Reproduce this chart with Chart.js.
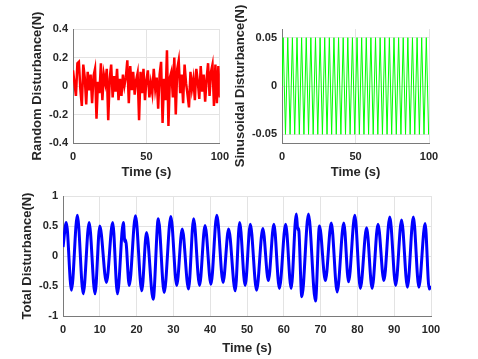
<!DOCTYPE html>
<html>
<head>
<meta charset="utf-8">
<script src="https://cdn.jsdelivr.net/npm/chart.js@4.4.1/dist/chart.umd.min.js"></script>
<style>
  html, body { margin: 0; padding: 0; background: #ffffff; width: 478px; height: 359px; overflow: hidden; }
  canvas { position: absolute; }
</style>
</head>
<body>
<canvas id="c1" width="236" height="180" style="left:0px;top:0px;width:236px;height:180px"></canvas>
<canvas id="c2" width="245" height="180" style="left:233px;top:0px;width:245px;height:180px"></canvas>
<canvas id="c3" width="478" height="179" style="left:0px;top:180px;width:478px;height:179px"></canvas>
<script>
// ---------- data ----------
const randomT = [0,1,2,3,4,5,6,7,8,9,10,11,12,13,14,15,16,17,18,19,20,21,22,23,24,25,26,27,28,29,30,31,32,33,34,35,36,37,38,39,40,41,42,43,44,45,46,47,48,49,50,51,52,53,54,55,56,57,58,59,60,61,62,63,64,65,66,67,68,69,70,71,72,73,74,75,76,77,78,79,80,81,82,83,84,85,86,87,88,89,90,91,92,93,94,95,96,97,98,99,100];
const randomV = [0.11,0.02,-0.07,0.16,0.17,-0.02,-0.14,0.15,0.06,-0.13,0.10,-0.03,0.08,-0.12,0.07,0.12,-0.23,0.03,-0.05,0.16,-0.10,0.08,0.02,0.12,-0.24,0.05,0.15,-0.08,0.07,-0.04,0.12,-0.10,0.05,-0.07,0.08,0.00,0.06,0.18,-0.12,0.14,-0.03,0.10,-0.06,0.04,0.09,-0.24,0.10,-0.05,0.12,-0.10,0.04,0.11,-0.08,0.02,-0.05,0.12,-0.02,0.06,-0.16,0.08,0.17,-0.26,0.05,-0.10,0.25,-0.28,0.06,0.10,-0.08,0.20,-0.20,0.12,0.18,-0.05,0.08,-0.12,0.15,0.02,-0.06,-0.15,0.10,-0.02,0.05,-0.10,0.12,0.03,-0.09,0.14,-0.04,0.08,-0.11,0.05,0.16,-0.07,0.10,0.15,-0.14,0.15,-0.12,0.14,-0.08];

const sinT = [0,0.79,2.36,3.93,5.50,7.07,8.64,10.21,11.78,13.35,14.92,16.49,18.06,19.63,21.21,22.78,24.35,25.92,27.49,29.06,30.63,32.20,33.77,35.34,36.91,38.48,40.06,41.63,43.20,44.77,46.34,47.91,49.48,51.05,52.62,54.19,55.76,57.33,58.90,60.48,62.05,63.62,65.19,66.76,68.33,69.90,71.47,73.04,74.61,76.18,77.75,79.33,80.90,82.47,84.04,85.61,87.18,88.75,90.32,91.89,93.46,95.03,96.60,98.17,99.75,100];
const sinV = [0,0.05,-0.05,0.05,-0.05,0.05,-0.05,0.05,-0.05,0.05,-0.05,0.05,-0.05,0.05,-0.05,0.05,-0.05,0.05,-0.05,0.05,-0.05,0.05,-0.05,0.05,-0.05,0.05,-0.05,0.05,-0.05,0.05,-0.05,0.05,-0.05,0.05,-0.05,0.05,-0.05,0.05,-0.05,0.05,-0.05,0.05,-0.05,0.05,-0.05,0.05,-0.05,0.05,-0.05,0.05,-0.05,0.05,-0.05,0.05,-0.05,0.05,-0.05,0.05,-0.05,0.05,-0.05,0.05,-0.05,0.05,-0.05,-0.044];

const totalT = [0,0.9,2.3,3.9,5.5,7.1,8.7,10.0,11.8,13.5,14.8,16.4,16.8,17.0,18.0,19.7,21.4,22.7,24.5,25.9,27.5,29.3,30.9,32.4,34.1,35.5,37.1,38.6,40.2,41.8,43.5,45.0,46.8,48.0,49.5,50.9,52.6,54.3,55.8,57.3,58.8,60.5,62.0,63.4,63.8,64.0,64.9,66.7,68.6,69.7,71.3,72.9,74.5,76.3,77.6,79.3,80.8,82.5,84.0,85.6,87.2,88.8,90.4,92.0,93.6,95.2,96.7,98.4,99.5,100];
const totalV = [0.15,0.56,-0.57,0.68,-0.63,0.56,-0.63,0.50,-0.44,0.56,-0.63,0.56,0.24,0.27,-0.49,0.67,-0.58,0.39,-0.72,0.62,-0.61,0.66,-0.49,0.45,-0.55,0.62,-0.49,0.51,-0.47,0.68,-0.44,0.45,-0.58,0.56,-0.49,0.53,-0.57,0.46,-0.41,0.53,-0.54,0.53,-0.54,0.70,0.44,0.46,-0.68,0.70,-0.75,0.50,-0.41,0.55,-0.60,0.55,-0.43,0.68,-0.54,0.47,-0.54,0.53,-0.41,0.65,-0.49,0.60,-0.52,0.65,-0.52,0.54,-0.55,-0.50];

const xTicksTop = [0, 50, 100];
const xTicksBottom = [0, 10, 20, 30, 40, 50, 60, 70, 80, 90, 100];
const yTicksRandom = [-0.4, -0.2, 0, 0.2, 0.4];
const yTicksSin = [-0.05, 0, 0.05];
const yTicksTotal = [-1, -0.5, 0, 0.5, 1];

const xTitle = 'Time (s)';
const yTitleRandom = 'Random Disturbance(N)';
const yTitleSin = 'Sinusoidal Disturbance(N)';
const yTitleTotal = 'Total Disturbance(N)';

// ---------- helpers ----------
const FONT = 'Liberation Sans, Arial, sans-serif';
const TXT = '#262626';
const GRID = '#e3e3e3';
const AXIS = '#7a7a7a';

function pts(t, v) { return t.map((x, i) => ({ x: x, y: v[i] })); }

function xAxis(min, max, ticks, h) {
  return {
    type: 'linear', min: min, max: max,
    afterBuildTicks: s => { s.ticks = ticks.map(v => ({ value: v })); },
    afterFit: s => { s.height = h; },
    grid: { color: GRID, lineWidth: 1, drawTicks: false },
    border: { color: AXIS, width: 1 },
    ticks: { color: TXT, padding: 7, maxRotation: 0, autoSkip: false,
             font: { family: FONT, size: 11, weight: 'bold' },
             callback: v => String(v) },
    title: { display: true, text: xTitle, color: TXT, padding: 0,
             font: { family: FONT, size: 13, weight: 'bold' } }
  };
}
function yAxis(min, max, ticks, w, title) {
  return {
    type: 'linear', min: min, max: max,
    afterBuildTicks: s => { s.ticks = ticks.map(v => ({ value: v })); },
    afterFit: s => { s.width = w; },
    grid: { color: GRID, lineWidth: 1, drawTicks: false },
    border: { color: AXIS, width: 1 },
    ticks: { color: TXT, padding: 5, autoSkip: false,
             font: { family: FONT, size: 11, weight: 'bold' },
             callback: v => String(v) },
    title: { display: true, text: title, color: TXT, padding: 0,
             font: { family: FONT, size: 13, weight: 'bold' } }
  };
}
function make(id, data, color, lw, tension, xa, ya, pad) {
  return new Chart(document.getElementById(id), {
    type: 'line',
    data: { datasets: [{ data: data, borderColor: color, borderWidth: lw,
      pointRadius: 0, fill: false, tension: tension,
      cubicInterpolationMode: tension ? 'monotone' : 'default' }] },
    options: {
      responsive: false, animation: false, devicePixelRatio: 1,
      layout: { padding: pad },
      plugins: { legend: { display: false }, tooltip: { enabled: false } },
      scales: { x: xa, y: ya }
    }
  });
}

make('c1', pts(randomT, randomV), '#ff0000', 2.5, 0,
  xAxis(0, 100, xTicksTop, 37), yAxis(-0.4, 0.4, yTicksRandom, 43, yTitleRandom),
  { left: 30, top: 29, right: 16, bottom: 0 });

make('c2', pts(sinT, sinV), '#00ff00', 1, 0,
  xAxis(0, 100, xTicksTop, 37), yAxis(-0.059, 0.059, yTicksSin, 49, yTitleSin),
  { left: 0, top: 29, right: 49, bottom: 0 });

make('c3', pts(totalT, totalV), '#0000ff', 3, 0.4,
  xAxis(0, 100, xTicksBottom, 40), yAxis(-1, 1, yTicksTotal, 43, yTitleTotal),
  { left: 20, top: 16, right: 47, bottom: 3 });
</script>
</body>
</html>
